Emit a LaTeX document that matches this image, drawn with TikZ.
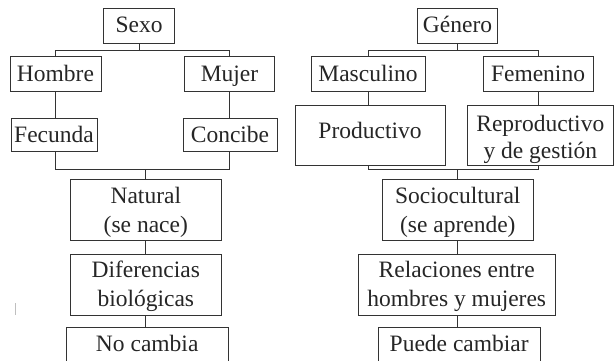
\documentclass[tikz,border=0pt]{standalone}
\usepackage{fontspec}
\setmainfont{Liberation Serif}
\newfontfamily\gserif{Liberation Serif}
\newcommand\topstrut[1]{\rule{0pt}{#1}}
\begin{document}
\begin{tikzpicture}[x=1pt,y=-1pt,
  box/.style={draw=black!80, line width=0.8pt, inner sep=0pt, align=center,
    font=\gserif\fontsize{23.5}{29}\selectfont, text=black!85},
  one/.style={box, text height=16pt, text depth=1.6pt},
  two/.style={box},
  conn/.style={draw=black!80, line width=0.8pt}]
\useasboundingbox (0,0) rectangle (616,361);
\clip (0,0) rectangle (616,361);
% left tree
\node[one, minimum width=71pt, minimum height=35pt] (sexo) at (139,25.8) {Sexo};
\node[one, minimum width=91pt, minimum height=35pt] (hombre) at (55.5,74.3) {Hombre};
\node[one, minimum width=90pt, minimum height=35pt] (mujer) at (229.5,74.3) {Mujer};
\node[one, minimum width=86pt, minimum height=33.5pt] (fecunda) at (54,135) {Fecunda};
\node[one, minimum width=94pt, minimum height=33.5pt] (concibe) at (230,135) {Concibe};
\node[two, minimum width=151.7pt, minimum height=60.7pt] (natural) at (145.8,209.7) {\topstrut{21pt}Natural\\(se nace)};
\node[two, minimum width=151.7pt, minimum height=61pt] (dif) at (145.8,284.5) {\topstrut{21pt}Diferencias\\biológicas};
\node[one, minimum width=162.3pt, minimum height=34pt] (nocambia) at (147.2,344.7) {No cambia};
% right tree
\node[one, minimum width=80pt, minimum height=35pt] (genero) at (457.5,25.8) {Género};
\node[one, minimum width=114pt, minimum height=35pt] (masc) at (368,74.2) {Masculino};
\node[one, minimum width=110pt, minimum height=35pt] (fem) at (538,74.2) {Femenino};
\node[box, text height=16pt, text depth=9.4pt, minimum width=150pt, minimum height=60pt] (prod) at (370,135) {Productivo};
\node[box, font=\gserif\fontsize{23.5}{26.6}\selectfont, minimum width=146pt, minimum height=60pt] (repro) at (540.3,135) {\topstrut{25pt}Reproductivo\\y de gestión};
\node[two, minimum width=151pt, minimum height=60.7pt] (socio) at (457.8,209.7) {\topstrut{21pt}Sociocultural\\(se aprende)};
\node[two, minimum width=196.7pt, minimum height=61pt] (rel) at (456.7,284.5) {\topstrut{21pt}Relaciones entre\\hombres y mujeres};
\node[one, minimum width=161.7pt, minimum height=34pt] (puede) at (459.2,344.7) {Puede cambiar};
% left connectors
\path (sexo.south) ++(0,6.7) coordinate (ls);
\draw[conn] (sexo.south) -- (ls);
\draw[conn] (hombre.north) |- (ls) -| (mujer.north);
\draw[conn] (hombre.south) -- (hombre.south |- fecunda.north);
\draw[conn] (mujer.south) -- (mujer.south |- concibe.north);
\path (natural.north) ++(0,-9.3) coordinate (lb);
\draw[conn] (natural.north) -- (lb);
\draw[conn] (hombre.south |- fecunda.south) |- (lb) -| (mujer.south |- concibe.south);
\draw[conn] (natural.south) -- (dif.north);
\draw[conn] (dif.south) -- (dif.south |- nocambia.north);
% right connectors
\path (genero.south) ++(0,6.7) coordinate (rs);
\draw[conn] (genero.south) -- (rs);
\draw[conn] (masc.north) |- (rs) -| (fem.north);
\draw[conn] (masc.south) -- (masc.south |- prod.north);
\draw[conn] (fem.south) -- (fem.south |- repro.north);
\path (socio.north) ++(0,-9.3) coordinate (rb);
\draw[conn] (socio.north) -- (rb);
\draw[conn] (masc.south |- prod.south) |- (rb) -| (fem.south |- repro.south);
\draw[conn] (socio.south) -- (socio.south |- rel.north);
\draw[conn] (socio.south |- rel.south) -- (socio.south |- puede.north);
% stray mark
\draw[black!25, line width=0.8pt] (15.7,303) -- (15.7,315);
\end{tikzpicture}
\end{document}
